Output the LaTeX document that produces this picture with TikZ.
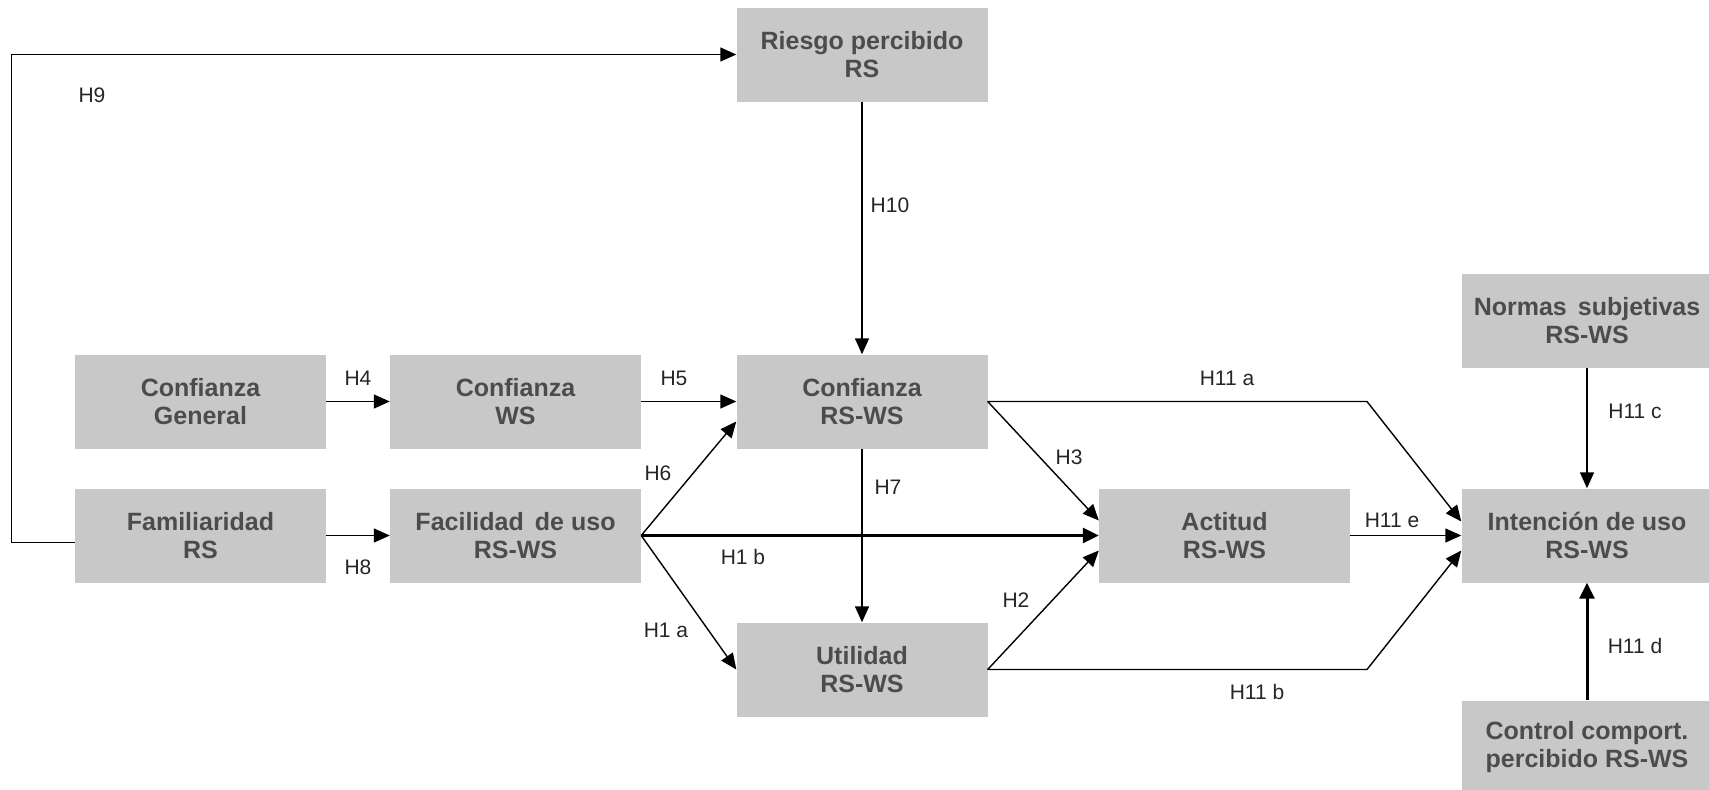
\documentclass[tikz,border=0pt]{standalone}
\usepackage{fontspec}
\setmainfont{Liberation Sans}
\usetikzlibrary{arrows.meta,calc}
\definecolor{boxgray}{HTML}{C8C8C8}
\definecolor{txtgray}{HTML}{4C4C4C}
\begin{document}
\begin{tikzpicture}[x=1pt,y=-1pt,
  box/.style={fill=boxgray, minimum width=251pt, minimum height=94pt, inner sep=0pt,
    align=center, text=txtgray, font=\fontsize{25}{28}\selectfont\bfseries},
  lab/.style={font=\fontsize{21}{24}\selectfont, text=black!85, inner sep=0pt},
  conn/.style={line width=1.4pt, -{Triangle[length=16pt,width=14pt]}},
  bold conn/.style={line width=3pt, -{Triangle[length=16pt,width=15pt]}}]
\useasboundingbox (0,0) rectangle (1709,790);
\fill[white] (0,0) rectangle (1709,790);

% boxes
\node[box] (risk) at (862,54.5) {Riesgo percibido\\RS};
\node[box] (cg)   at (200.5,401.5) {Confianza\\General};
\node[box] (cws)  at (515.5,401.5) {Confianza\\WS};
\node[box] (crs)  at (862,401.5) {Confianza\\RS-WS};
\node[box] (fam)  at (200.5,535.5) {Familiaridad\\RS};
\node[box] (fac)  at (515.5,535.5) {Facilidad\, de uso\\RS-WS};
\node[box] (uti)  at (862,669.5) {Utilidad\\RS-WS};
\node[box] (act)  at (1224.5,535.5) {Actitud\\RS-WS};
\node[box] (int)  at (1587,535.5) {Intención de uso\\RS-WS};
\node[box] (nor)  at (1587,321) {Normas\, subjetivas\\RS-WS};
\node[box] (ctl)  at (1587,747.5) {Control comport.\\percibido RS-WS};

\coordinate (h9x) at (11.5,0);
\coordinate (bend) at (1367,0);

% connectors
\draw[conn] ([yshift=-7pt]fam.west) -| (h9x |- risk.west) -- (risk.west);
\draw[conn] (risk.south) -- (crs.north);
\draw[conn] (cg.east) -- (cws.west);
\draw[conn] (cws.east) -- (crs.west);
\draw[conn] (fam.east) -- (fac.west);
\draw[conn] (fac.east) -- ([yshift=-20pt]crs.west);
\draw[conn] (fac.east) -- (uti.west);
\draw[bold conn] (fac.east) -- (act.west);
\draw[conn] (crs.south) -- (uti.north);
\draw[conn] (crs.east) -- ([yshift=15pt]act.west);
\draw[conn] (uti.east) -- ([yshift=-15pt]act.west);
\draw[conn] (crs.east) -- (crs.east -| bend) -- ([yshift=14pt]int.west);
\draw[conn] (act.east) -- (int.west);
\draw[conn] (uti.east) -- (uti.east -| bend) -- ([yshift=-15pt]int.west);
\draw[conn] (nor.south) -- (int.north);
\draw[bold conn] (ctl.north) -- (int.south);

% labels
\node[lab] (l9)   at (92,95)    {H9};
\node[lab] (l10)  at (890,205)  {H10};
\node[lab] (l4)   at (358,378)  {H4};
\node[lab] (l5)   at (674,378)  {H5};
\node[lab] (l6)   at (658,473)  {H6};
\node[lab] (l7)   at (888,487)  {H7};
\node[lab] (l1b)  at (743,557)  {H1 b};
\node[lab] (l8)   at (358,567)  {H8};
\node[lab] (l1a)  at (666,630)  {H1 a};
\node[lab] (l11a) at (1227,378) {H11 a};
\node[lab] (l3)   at (1069,457) {H3};
\node[lab] (l2)   at (1016,600) {H2};
\node[lab] (l11e) at (1392,520) {H11 e};
\node[lab] (l11c) at (1635,411) {H11 c};
\node[lab] (l11d) at (1635,646) {H11 d};
\node[lab] (l11b) at (1257,692) {H11 b};
\end{tikzpicture}
\end{document}
